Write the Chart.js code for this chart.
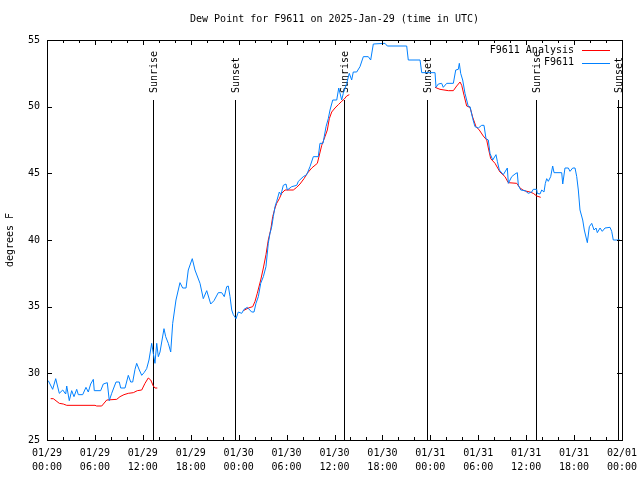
<!DOCTYPE html>
<html>
<head>
<meta charset="utf-8">
<script src="https://cdn.jsdelivr.net/npm/chart.js@4"></script>
<style>
  html, body { margin: 0; padding: 0; background: #fff; }
  canvas { display: block; }
</style>
</head>
<body>
<canvas id="myChart" width="640" height="480"></canvas>
<script>
// hours since 01/29 00:00 UTC
const blueHours = [0.16, 0.71, 1.09, 1.54, 1.97, 2.34, 2.47, 2.79, 3.09, 3.38, 3.72, 3.92, 4.47, 4.88, 5.17, 5.47, 5.80, 5.92, 6.72, 7.05,
  7.55, 7.80, 8.10, 8.64, 9.05, 9.23, 9.77, 10.18, 10.48, 10.73, 11.02, 11.23, 11.56, 11.86, 12.15, 12.48, 12.77, 13.11, 13.31, 13.52,
  13.74, 13.94, 14.15, 14.65, 14.86, 15.19, 15.49, 15.74, 16.15, 16.65, 16.99, 17.41, 17.69, 18.19, 18.53, 19.16, 19.57, 20.00, 20.50, 20.91,
  21.45, 21.88, 22.20, 22.50, 22.70, 22.92, 23.13, 23.33, 23.67, 23.95, 24.38, 24.67, 25.08, 25.63, 25.92, 26.17, 26.46, 26.76, 27.09, 27.42,
  27.71, 27.92, 28.14, 28.34, 28.55, 28.76, 29.09, 29.30, 29.59, 29.93, 30.09, 30.64, 31.27, 31.47, 32.09, 32.52, 32.93, 33.35, 33.97, 34.18,
  34.56, 34.94, 35.22, 35.44, 35.78, 36.28, 36.53, 36.90, 37.10, 37.53, 37.85, 38.15, 38.35, 38.78, 39.19, 39.61, 40.23, 40.53, 40.86, 42.32,
  42.61, 45.04, 45.24, 46.71, 46.92, 48.59, 48.71, 49.00, 49.42, 49.62, 50.05, 50.88, 51.18, 51.50, 51.63, 51.80, 52.05, 52.34, 52.55, 52.76,
  52.97, 53.31, 53.59, 54.01, 54.43, 54.72, 54.97, 55.26, 55.47, 55.81, 56.22, 56.39, 56.64, 57.14, 57.64, 57.77, 58.19, 58.60, 58.89, 59.02,
  59.32, 59.86, 60.27, 60.69, 60.89, 61.32, 61.39, 61.73, 61.95, 62.23, 62.40, 62.57, 62.77, 63.07, 63.32, 63.49, 64.45, 64.58, 64.86, 65.28,
  65.49, 65.83, 66.12, 66.33, 66.53, 66.74, 67.08, 67.28, 67.66, 67.91, 68.21, 68.50, 68.75, 68.91, 69.25, 69.53, 69.87, 70.50, 70.71, 70.91,
  71.75];
const blueDew = [29.45, 28.8, 29.6, 28.5, 28.75, 28.45, 29.05, 27.95, 28.7, 28.25, 28.8, 28.4, 28.4, 28.95, 28.6, 29.2, 29.55, 28.7, 28.7, 29.2,
  29.3, 27.95, 28.5, 29.35, 29.35, 28.9, 28.9, 29.85, 29.35, 29.35, 30.3, 30.75, 30.25, 29.85, 30.05, 30.35, 31.0, 32.25, 31.5, 30.75,
  32.25, 31.25, 31.6, 33.35, 32.75, 32.25, 31.6, 33.75, 35.5, 36.8, 36.4, 36.4, 37.75, 38.6, 37.75, 36.75, 35.6, 36.2, 35.2, 35.45,
  36.05, 36.05, 35.75, 36.5, 36.55, 35.75, 34.75, 34.4, 34.1, 34.6, 34.5, 34.8, 34.95, 34.6, 34.6, 35.25, 35.75, 36.75, 37.25, 38.0,
  39.75, 40.5, 41.0, 41.75, 42.5, 42.9, 43.6, 43.4, 44.1, 44.2, 43.75, 44.0, 44.1, 44.4, 44.75, 44.9, 45.5, 46.25, 46.25, 47.25,
  47.25, 48.5, 49.1, 49.75, 50.5, 50.5, 51.4, 50.5, 51.0, 51.75, 52.5, 52.0, 52.6, 52.6, 53.0, 53.75, 53.75, 53.5, 54.7, 54.75,
  54.55, 54.55, 53.5, 53.5, 52.55, 52.55, 51.45, 51.7, 51.75, 51.45, 51.75, 51.75, 52.75, 52.8, 53.25, 52.5, 52.0, 51.0, 50.5, 50.0,
  50.0, 49.1, 48.5, 48.4, 48.6, 48.6, 47.6, 47.5, 46.5, 46.0, 46.4, 45.9, 45.25, 44.9, 45.4, 44.25, 44.75, 44.95, 45.05, 44.1,
  43.75, 43.7, 43.5, 43.6, 43.8, 43.8, 43.5, 43.45, 43.75, 43.6, 44.25, 44.6, 44.4, 44.75, 45.55, 45.05, 45.05, 44.2, 45.4, 45.4,
  45.15, 45.4, 45.4, 44.75, 43.75, 42.25, 41.5, 40.75, 39.8, 41.0, 41.25, 40.75, 40.9, 40.55, 40.9, 40.65, 40.9, 40.95, 40.65, 40.0,
  40.0];

// analysis series, null marks the gaps
const redHours = [0.46, 0.79, 1.54, 2.04, 2.47, 6.01, 6.22, 6.85, 7.48, 8.73, 9.14, 9.64, 10.18, 10.81, 11.31, 11.86, 12.27, 12.68, 12.99, 13.31,
  13.52, 13.81, 19.0,
  24.58, 25.21, 25.76, 26.05, 26.33, 26.76, 27.09, 27.42, 27.71, 28.01, 28.26, 28.55, 28.76, 29.09, 29.39, 29.80, 30.84, 31.27, 31.68, 32.18,
  32.59, 33.15, 33.85, 34.40, 34.81, 35.10, 35.35, 35.65, 36.06, 36.48, 36.90, 37.19, 37.53, 37.85, 43.0,
  48.59, 49.21, 50.25, 50.88, 51.30, 51.72, 51.93, 52.22, 52.55, 52.97, 53.31, 53.72, 54.13, 54.63, 55.06, 55.26, 55.56, 56.10, 56.72, 57.35,
  57.76, 58.82, 59.23, 59.73, 60.48, 60.89, 61.32, 61.82];
const redDew = [28.1, 28.1, 27.75, 27.7, 27.6, 27.6, 27.55, 27.55, 28.0, 28.05, 28.25, 28.4, 28.5, 28.55, 28.7, 28.75, 29.25, 29.65, 29.5, 29.05,
  28.9, 28.9, null,
  34.7, 34.9, 35.0, 35.4, 36.0, 37.0, 37.9, 38.9, 40.0, 40.75, 41.75, 42.4, 42.75, 43.1, 43.5, 43.75, 43.75, 43.95, 44.2, 44.6,
  45.0, 45.4, 45.75, 47.1, 47.75, 48.25, 49.1, 49.6, 49.9, 50.15, 50.4, 50.55, 50.8, 50.9, null,
  51.45, 51.3, 51.2, 51.2, 51.55, 51.85, 51.6, 50.85, 50.05, 49.95, 49.2, 48.5, 48.25, 47.8, 47.5, 46.9, 46.1, 45.75, 45.1, 44.75,
  44.3, 44.25, 43.9, 43.7, 43.6, 43.5, 43.3, 43.2];

const sunHours = [13.27, 23.54, 37.23, 47.55, 61.27, 71.52];
const sunLabels = ['Sunrise', 'Sunset', 'Sunrise', 'Sunset', 'Sunrise', 'Sunset'];

const xTickDates = ['01/29', '01/29', '01/29', '01/29', '01/30', '01/30', '01/30', '01/30', '01/31', '01/31', '01/31', '01/31', '02/01'];
const xTickTimes = ['00:00', '06:00', '12:00', '18:00', '00:00', '06:00', '12:00', '18:00', '00:00', '06:00', '12:00', '18:00', '00:00'];

const chartTitle = 'Dew Point for F9611 on 2025-Jan-29 (time in UTC)';
const yTitle = 'degrees F';
const seriesNames = ['F9611 Analysis', 'F9611'];
const seriesColors = ['#ff0000', '#0080ff'];

const FONT = '10px "DejaVu Sans Mono", "Liberation Mono", monospace';

const gnuplotFrame = {
    id: 'gnuplotFrame',
    beforeDatasetsDraw(chart) {
        const { ctx, chartArea: a, scales: { x } } = chart;
        ctx.save();
        ctx.strokeStyle = '#000';
        ctx.lineWidth = 1;
        ctx.fillStyle = '#000';
        ctx.font = FONT;
        sunHours.forEach((h, i) => {
            const px = Math.round(x.getPixelForValue(h)) + 0.5;
            const topY = a.bottom - (a.bottom - a.top) * 0.85;
            ctx.beginPath();
            ctx.moveTo(px, a.bottom);
            ctx.lineTo(px, topY);
            ctx.stroke();
            ctx.save();
            ctx.translate(px + 1, topY - 7);
            ctx.rotate(-Math.PI / 2);
            ctx.textAlign = 'left';
            ctx.textBaseline = 'middle';
            ctx.fillText(sunLabels[i], 0, 0);
            ctx.restore();
        });
        ctx.restore();
    },
    afterDraw(chart) {
        const { ctx, chartArea: a, scales: { x, y } } = chart;
        ctx.save();
        ctx.strokeStyle = '#000';
        ctx.lineWidth = 1;
        ctx.strokeRect(a.left + 0.5, a.top + 0.5, a.right - a.left, a.bottom - a.top);

        ctx.beginPath();
        for (let h = 0; h <= 72; h += 2) {
            const px = Math.round(x.getPixelForValue(h)) + 0.5;
            const len = h % 6 === 0 ? 5 : 3;
            ctx.moveTo(px, a.bottom); ctx.lineTo(px, a.bottom - len);
            ctx.moveTo(px, a.top); ctx.lineTo(px, a.top + len);
        }
        for (let v = 25; v <= 55; v += 5) {
            const py = Math.round(y.getPixelForValue(v)) + 0.5;
            ctx.moveTo(a.left, py); ctx.lineTo(a.left + 5, py);
            ctx.moveTo(a.right, py); ctx.lineTo(a.right - 5, py);
        }
        ctx.stroke();

        ctx.fillStyle = '#000';
        ctx.font = FONT;
        ctx.textAlign = 'center';
        ctx.textBaseline = 'middle';
        ctx.fillText(chartTitle, (a.left + a.right) / 2, 19);

        ctx.save();
        ctx.translate(10, (a.top + a.bottom) / 2);
        ctx.rotate(-Math.PI / 2);
        ctx.fillText(yTitle, 0, 0);
        ctx.restore();

        // legend
        seriesNames.forEach((name, i) => {
            const ly = a.top + 10 + i * 12.5;
            ctx.textAlign = 'right';
            ctx.fillStyle = '#000';
            ctx.fillText(name, a.right - 48, ly);
            ctx.strokeStyle = seriesColors[i];
            ctx.beginPath();
            ctx.moveTo(a.right - 40, Math.round(ly) + 0.5);
            ctx.lineTo(a.right - 12, Math.round(ly) + 0.5);
            ctx.stroke();
        });
        ctx.restore();
    }
};

const ctx = document.getElementById('myChart').getContext('2d');
const myChart = new Chart(ctx, {
    type: 'line',
    data: {
        datasets: [{
            label: seriesNames[1],
            data: blueHours.map((h, i) => ({ x: h, y: blueDew[i] })),
            borderColor: seriesColors[1],
            borderWidth: 1,
            pointRadius: 0,
            tension: 0,
            order: 0
        }, {
            label: seriesNames[0],
            data: redHours.map((h, i) => ({ x: h, y: redDew[i] })),
            borderColor: seriesColors[0],
            borderWidth: 1,
            pointRadius: 0,
            tension: 0,
            spanGaps: false,
            order: 1
        }]
    },
    options: {
        responsive: false,
        animation: false,
        devicePixelRatio: 1,
        layout: { padding: { top: 40, right: 18, left: 0, bottom: 0 } },
        plugins: {
            legend: { display: false },
            title: { display: false },
            tooltip: { enabled: false }
        },
        scales: {
            x: {
                type: 'linear',
                min: 0,
                max: 72,
                grid: { display: false, drawTicks: false },
                border: { display: false },
                ticks: {
                    stepSize: 6,
                    autoSkip: false,
                    maxRotation: 0,
                    padding: 6,
                    color: '#000',
                    font: { family: '"DejaVu Sans Mono", "Liberation Mono", monospace', size: 10, lineHeight: 1.4 },
                    callback: (v) => [xTickDates[v / 6], xTickTimes[v / 6]]
                },
                afterFit: (s) => { s.height = 40; s.paddingLeft = 0; s.paddingRight = 0; }
            },
            y: {
                min: 25,
                max: 55,
                grid: { display: false, drawTicks: false },
                border: { display: false },
                ticks: {
                    stepSize: 5,
                    padding: 7,
                    color: '#000',
                    font: { family: '"DejaVu Sans Mono", "Liberation Mono", monospace', size: 10 }
                },
                afterFit: (s) => { s.width = 47; s.paddingTop = 0; s.paddingBottom = 0; }
            }
        }
    },
    plugins: [gnuplotFrame]
});
</script>
</body>
</html>
